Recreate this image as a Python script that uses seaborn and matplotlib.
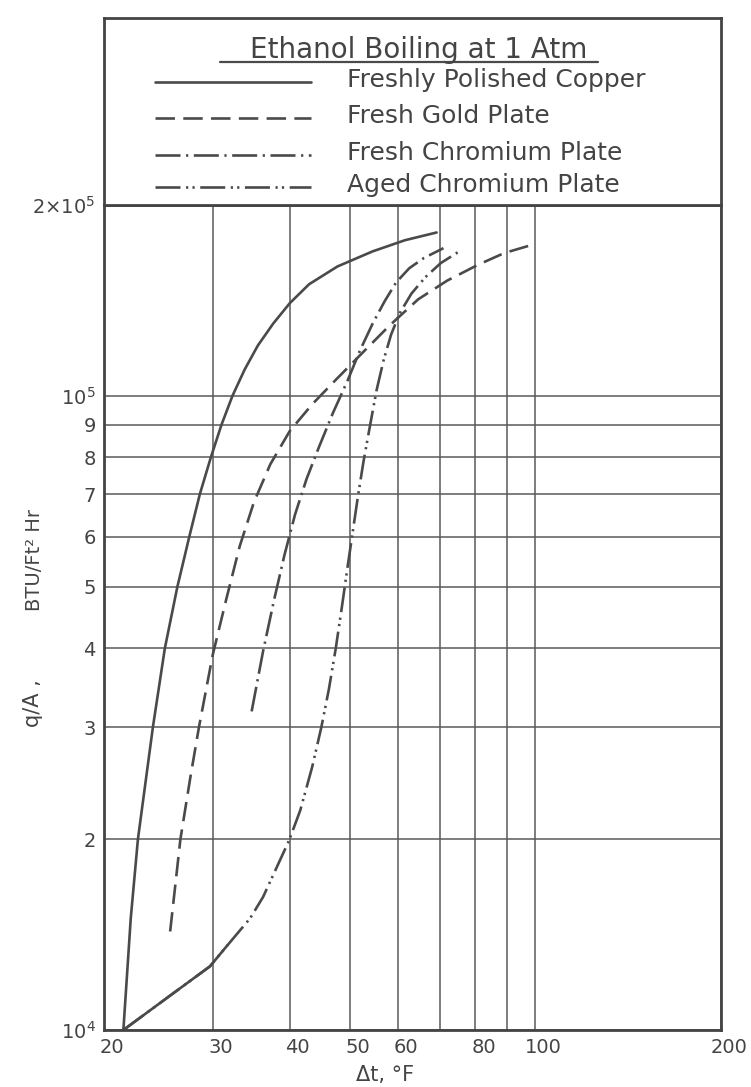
import matplotlib
matplotlib.use("Agg")
import matplotlib.pyplot as plt
import matplotlib.transforms as mtransforms
import seaborn as sns
import pandas as pd
from matplotlib.lines import Line2D

# ---------------- data ----------------
copper_dt = [21.5, 22.1, 22.7, 24.0, 25.1, 26.3, 27.5, 28.6, 29.8, 31.0, 32.3, 33.8, 35.5, 37.6, 40.0,
             43.0, 47.8, 54.5, 61.5, 69.2]
copper_q = [1.0e4, 1.5e4, 2.0e4, 3.0e4, 4.0e4, 5.0e4, 6.0e4, 7.0e4, 8.0e4, 9.0e4, 1.0e5, 1.1e5, 1.2e5,
            1.3e5, 1.4e5, 1.5e5, 1.6e5, 1.69e5, 1.76e5, 1.81e5]

gold_dt = [25.6, 26.6, 27.6, 28.5, 30.0, 31.6, 33.2, 35.0, 37.2, 40.0, 43.5, 47.5, 52.5, 58.0, 64.6,
           72.0, 80.8, 89.1, 98.7]
gold_q = [1.43e4, 2.0e4, 2.5e4, 3.0e4, 3.9e4, 4.8e4, 5.8e4, 6.8e4, 7.8e4, 8.8e4, 9.7e4, 1.06e5, 1.17e5,
          1.29e5, 1.42e5, 1.52e5, 1.61e5, 1.68e5, 1.73e5]

chrom_dt = [34.7, 36.2, 37.7, 39.2, 40.8, 42.6, 44.6, 47.0, 49.7, 52.0, 54.5, 57.0, 59.5, 62.5, 66.0, 71.0]
chrom_q = [3.18e4, 3.95e4, 4.75e4, 5.6e4, 6.5e4, 7.4e4, 8.3e4, 9.4e4, 1.06e5, 1.18e5, 1.30e5, 1.41e5,
           1.51e5, 1.59e5, 1.65e5, 1.71e5]

aged_dt = [21.5, 25.5, 29.7, 31.7, 34.5, 36.2, 39.9, 41.6, 43.5, 45.0, 46.3, 47.5, 48.6, 49.6, 50.6,
           51.6, 52.7, 54.0, 55.3, 56.8, 58.4, 60.3, 63.0, 66.4, 70.3, 75.3]
aged_q = [1.0e4, 1.13e4, 1.26e4, 1.36e4, 1.50e4, 1.62e4, 1.99e4, 2.22e4, 2.6e4, 3.0e4, 3.45e4, 4.0e4,
          4.65e4, 5.35e4, 6.1e4, 6.95e4, 7.9e4, 9.0e4, 1.02e5, 1.14e5, 1.25e5, 1.35e5, 1.45e5, 1.54e5,
          1.62e5, 1.69e5]
aged_solid_n = 4  # lower part of the aged curve is drawn solid

series_names = ["Freshly Polished Copper", "Fresh Gold Plate", "Fresh Chromium Plate", "Aged Chromium Plate"]
title_text = "Ethanol Boiling at 1 Atm"

x_ticks = [20, 30, 40, 50, 60, 70, 80, 90, 100, 200]
x_ticklabels = ["20", "30", "40", "50", "60", "", "80", "", "100", "200"]
y_ticks = [1e4, 2e4, 3e4, 4e4, 5e4, 6e4, 7e4, 8e4, 9e4, 1e5, 2e5]
y_ticklabels = [r"$10^4$", "2", "3", "4", "5", "6", "7", "8", "9", r"$10^5$", r"$2{\times}10^5$"]

# ---------------- styling ----------------
sns.set_style("white")
plt.rcParams["font.family"] = ["DejaVu Sans"]
plt.rcParams["lines.scale_dashes"] = False

INK = "#4a4a4a"
TXT = "#444444"
GRID = "#5a5a5a"
LW = 1.9

styles = {
    series_names[0]: None,
    series_names[1]: (0, (14, 6)),
    series_names[2]: (0, (18, 4, 1.6, 4)),
    series_names[3]: (0, (18, 4, 1.6, 3, 1.6, 4)),
}

W, H = 751, 1087
fig = plt.figure(figsize=(W / 100, H / 100), dpi=100)

L, R = 104, 721
TOP, BOT = 205, 1030
FTOP = 18
ax = fig.add_axes([L / W, (H - BOT) / H, (R - L) / W, (BOT - TOP) / H])

frames = []
for name, xs, ys in [(series_names[0], copper_dt, copper_q), (series_names[1], gold_dt, gold_q),
                     (series_names[2], chrom_dt, chrom_q), (series_names[3], aged_dt, aged_q)]:
    frames.append(pd.DataFrame({"dt": xs, "q": ys, "surface": name}))

for df in frames:
    name = df["surface"].iloc[0]
    ls = styles[name]
    sns.lineplot(data=df, x="dt", y="q", ax=ax, sort=False, estimator=None, color=INK, lw=LW,
                 linestyle="-" if ls is None else ls, legend=False)

aged_df = frames[3]
sns.lineplot(data=aged_df.iloc[:aged_solid_n], x="dt", y="q", ax=ax, sort=False, estimator=None,
             color=INK, lw=LW, linestyle="-", legend=False)

ax.set_xscale("log")
ax.set_yscale("log")
ax.set_xlim(20, 200)
ax.set_ylim(1e4, 2e5)
ax.set_xticks(x_ticks)
ax.set_xticklabels(x_ticklabels)
ax.set_yticks(y_ticks)
ax.set_yticklabels(y_ticklabels)
ax.minorticks_off()
ax.tick_params(length=0, labelsize=14, colors=TXT, pad=6)
ax.grid(True, which="major", color=GRID, lw=1.1)
ax.set_xlabel("")
ax.set_ylabel("")
for s in ax.spines.values():
    s.set_linewidth(2.0)
    s.set_color(TXT)

# shift x tick labels slightly right, as in the hand-lettered original
offset = mtransforms.ScaledTranslation(8 / 100, 0, fig.dpi_scale_trans)
for lab in ax.get_xticklabels():
    lab.set_transform(lab.get_transform() + offset)

# ---------------- legend panel (inside the top of the frame) ----------------
lp = fig.add_axes([L / W, (H - TOP) / H, (R - L) / W, (TOP - FTOP) / H])
lp.set_xlim(0, 1)
lp.set_ylim(0, 1)
lp.set_xticks([])
lp.set_yticks([])
for s in lp.spines.values():
    s.set_linewidth(2.0)
    s.set_color(TXT)

lp.text(0.51, 0.786, title_text, ha="center", va="baseline", fontsize=20, color=TXT)
lp.add_line(Line2D([0.188, 0.80], [0.765, 0.765], color=INK, lw=1.6))

rows_y = [0.658, 0.466, 0.268, 0.095]
for name, yy in zip(series_names, rows_y):
    ls = styles[name]
    lp.add_line(Line2D([0.083, 0.335], [yy, yy], color=INK, lw=LW,
                       linestyle="-" if ls is None else ls))
    lp.text(0.394, yy + 0.012, name, ha="left", va="center", fontsize=18, color=TXT)

# ---------------- axis titles ----------------
fig.text(0.046, (H - 560) / H, "BTU/Ft² Hr", rotation=90, ha="center", va="center",
         fontsize=14, color=TXT)
fig.text(0.044, (H - 703) / H, "q/A ,", rotation=90, ha="center", va="center",
         fontsize=15, color=TXT)
fig.text(0.513, 0.011, "Δt, °F", ha="center", va="center", fontsize=15, color=TXT)

fig.savefig("out.png", dpi=100)
